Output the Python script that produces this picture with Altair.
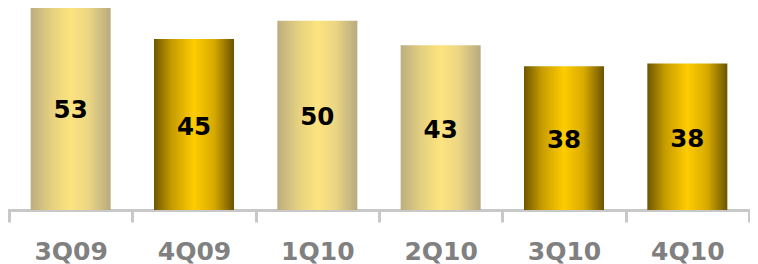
import altair as alt
import pandas as pd

quarters = ["3Q09", "4Q09", "1Q10", "2Q10", "3Q10", "4Q10"]
values = [53.4, 44.8, 49.6, 43.2, 37.7, 38.4]
styles = ["pale", "dark", "pale", "pale", "dark", "dark"]

df = pd.DataFrame({"q": quarters, "v": values, "s": styles})

pale = alt.LinearGradient(
    gradient="linear", x1=0, x2=1, y1=0, y2=0,
    stops=[
        alt.GradientStop(offset=0, color="#bcad7f"),
        alt.GradientStop(offset=0.25, color="#e3cf80"),
        alt.GradientStop(offset=0.5, color="#fde47f"),
        alt.GradientStop(offset=0.72, color="#ecd683"),
        alt.GradientStop(offset=1, color="#b8aa80"),
    ],
)
dark = alt.LinearGradient(
    gradient="linear", x1=0, x2=1, y1=0, y2=0,
    stops=[
        alt.GradientStop(offset=0, color="#6e5600"),
        alt.GradientStop(offset=0.22, color="#c59c00"),
        alt.GradientStop(offset=0.5, color="#ffcc00"),
        alt.GradientStop(offset=0.75, color="#d8aa00"),
        alt.GradientStop(offset=1, color="#6b5300"),
    ],
)

x_bars = alt.X(
    "q:N", sort=quarters, title=None,
    scale=alt.Scale(paddingInner=0.3514, paddingOuter=0.1757),
    axis=None,
)
x_axis = alt.X(
    "q:N", sort=quarters, title=None,
    scale=alt.Scale(paddingInner=0, paddingOuter=0),
    axis=alt.Axis(
        labelAngle=0, labelFont="DejaVu Sans", labelFontWeight="bold",
        labelFontSize=25, labelColor="#808080", labelPadding=17,
        domainColor="#c8c8c8", domainWidth=3, tickColor="#c8c8c8",
        tickWidth=3, tickSize=12, tickBand="extent", domainCap="square",
    ),
)
yscale = alt.Scale(domain=[0, 54], nice=False)
y = alt.Y("v:Q", scale=yscale, axis=None)

base = alt.Chart(df)
bars_pale = base.transform_filter(alt.datum.s == "pale").mark_bar(color=pale).encode(x=x_bars, y=y)
bars_dark = base.transform_filter(alt.datum.s == "dark").mark_bar(color=dark).encode(x=x_bars, y=y)
bars = alt.layer(bars_pale, bars_dark)
labels = base.transform_calculate(mid="datum.v / 2").mark_text(
    font="DejaVu Sans", fontWeight="bold", fontSize=24.5, color="#000000",
    baseline="middle", dy=3,
).encode(x=x_axis, y=alt.Y("mid:Q", scale=yscale, axis=None),
         text=alt.Text("v:Q", format=".0f"))

chart = alt.layer(bars, labels).resolve_scale(x="independent").properties(
    width=740, height=206,
    autosize=alt.AutoSizeParams(type="none"),
    padding={"left": 1, "top": -4, "right": 1, "bottom": 54},
).configure_view(stroke=None)

chart.save("out.html", embed_options={"renderer": "svg", "actions": False})
